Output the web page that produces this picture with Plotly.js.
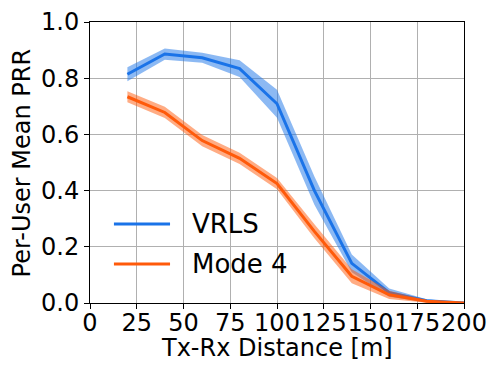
<!DOCTYPE html>
<html>
<head>
<meta charset="utf-8">
<script src="https://cdn.plot.ly/plotly-3.0.1.min.js"></script>
<style>
  html, body { margin: 0; padding: 0; background: #fff; }
  #chart { width: 498px; height: 374px; }
</style>
</head>
<body>
<div id="chart"></div>
<script>
// distances and per-user mean PRR
const dist = [20, 40, 60, 80, 100, 120, 140, 160, 180, 200];

const vrls     = [0.814, 0.886, 0.873, 0.834, 0.709, 0.400, 0.141, 0.037, 0.008, 0.000];
const vrlsLow  = [0.789, 0.866, 0.855, 0.804, 0.659, 0.350, 0.109, 0.022, 0.003, 0.000];
const vrlsHigh = [0.839, 0.906, 0.891, 0.864, 0.759, 0.450, 0.173, 0.052, 0.013, 0.002];

const mode4     = [0.734, 0.678, 0.578, 0.515, 0.425, 0.255, 0.095, 0.029, 0.006, 0.000];
const mode4Low  = [0.714, 0.658, 0.558, 0.495, 0.405, 0.230, 0.070, 0.014, 0.001, 0.000];
const mode4High = [0.754, 0.698, 0.598, 0.535, 0.445, 0.280, 0.120, 0.044, 0.011, 0.002];

const seriesNames = ["VRLS", "Mode 4"];
const blue = "#1a73e8";
const orange = "#ff5a0a";

const font = "DejaVu Sans, sans-serif";

function band(lo, hi, color) {
    // lower edge then upper edge, filled between
    return [
        { x: dist, y: lo, mode: "lines", line: { width: 0 }, hoverinfo: "skip", showlegend: false },
        { x: dist, y: hi, mode: "lines", line: { width: 0 }, fill: "tonexty",
          fillcolor: color, hoverinfo: "skip", showlegend: false }
    ];
}

const traces = [
    ...band(vrlsLow, vrlsHigh, "rgba(26,115,232,0.5)"),
    { x: dist, y: vrls, mode: "lines", name: seriesNames[0], line: { color: blue, width: 3 }, showlegend: false },
    ...band(mode4Low, mode4High, "rgba(255,90,10,0.5)"),
    { x: dist, y: mode4, mode: "lines", name: seriesNames[1], line: { color: orange, width: 3 }, showlegend: false }
];

// hand-drawn legend so the sample line is as long as in the figure
const legendY = [0.281, 0.139];
const legendColors = [blue, orange];
const shapes = legendY.map((y, i) => ({
    type: "line", xref: "paper", yref: "paper",
    x0: 0.064, x1: 0.214, y0: y, y1: y,
    line: { color: legendColors[i], width: 3 }
}));
const annotations = legendY.map((y, i) => ({
    xref: "paper", yref: "paper", x: 0.267, y: y,
    xanchor: "left", yanchor: "middle", showarrow: false,
    text: seriesNames[i], font: { family: font, size: 26, color: "#000" }
}));
// axis titles placed by hand to sit where the figure has them
annotations.push({
    xref: "paper", yref: "paper", x: -0.182, y: 0.5,
    xanchor: "center", yanchor: "middle", showarrow: false, textangle: -90,
    text: "Per-User Mean PRR", font: { family: font, size: 24, color: "#000" }
});
annotations.push({
    xref: "paper", yref: "paper", x: 0.5, y: -0.160,
    xanchor: "center", yanchor: "middle", showarrow: false,
    text: "Tx-Rx Distance [m]", font: { family: font, size: 24, color: "#000" }
});

const axisCommon = {
    showline: true, mirror: true, linecolor: "#000", linewidth: 1,
    ticks: "outside", ticklen: 5, tickcolor: "#000",
    showgrid: true, gridcolor: "#b0b0b0", gridwidth: 1,
    zeroline: false,
    tickfont: { family: font, size: 24, color: "#000" }
};

const layout = {
    width: 498, height: 374,
    margin: { l: 90, r: 34, t: 22, b: 71 },
    paper_bgcolor: "#fff", plot_bgcolor: "#fff",
    showlegend: false,
    xaxis: Object.assign({}, axisCommon, {
        range: [0, 200], tick0: 0, dtick: 25, tickangle: 0, ticklabelstandoff: -7
    }),
    yaxis: Object.assign({}, axisCommon, {
        range: [0, 1], tick0: 0, dtick: 0.2, tickformat: ".1f"
    }),
    shapes: shapes,
    annotations: annotations
};

Plotly.newPlot("chart", traces, layout, { displayModeBar: false, staticPlot: true });
</script>
</body>
</html>
